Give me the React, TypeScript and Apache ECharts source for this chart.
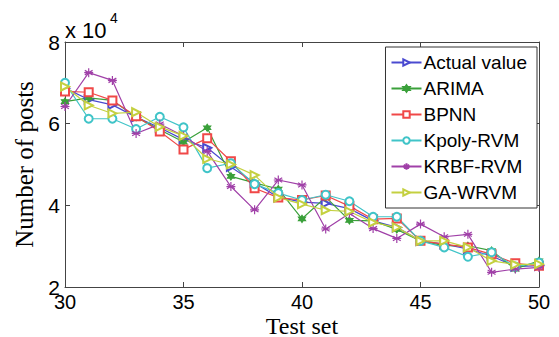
import React, { useEffect, useRef } from "react";
import * as echarts from "echarts";

// Test set index (x axis)
const testSet = [30, 31, 32, 33, 34, 35, 36, 37, 38, 39, 40, 41, 42, 43, 44, 45, 46, 47, 48, 49, 50];
// Values in units of 10^4 posts
const actualValue = [6.87, 6.59, 6.46, 6.16, 5.9, 5.61, 5.41, 4.94, 4.55, 4.2, 4.08, 4.05, 3.92, 3.62, 3.46, 3.13, 3.05, 2.93, 2.76, 2.5, 2.52];
const arima = [6.54, 6.63, 6.57, 6.16, 5.85, 5.55, 5.9, 4.71, 4.55, 4.4, 3.67, 4.2, 3.63, 3.62, 3.41, 3.13, 3.01, 3.01, 2.89, 2.44, 2.64];
const bpnn = [6.79, 6.77, 6.57, 6.18, 5.81, 5.37, 5.64, 5.08, 4.42, 4.19, 4.13, 4.24, 3.98, 3.66, 3.68, 3.13, 3.05, 2.97, 2.8, 2.58, 2.52];
const kpolyRvm = [7.0, 6.12, 6.12, 5.87, 6.17, 5.91, 4.91, 5.03, 4.52, 4.3, 4.13, 4.26, 4.1, 3.72, 3.72, 3.13, 2.97, 2.74, 2.85, 2.5, 2.6];
const krbfRvm = [6.42, 7.25, 7.06, 5.76, 5.99, 5.7, 5.32, 4.46, 3.89, 4.62, 4.5, 3.42, 3.8, 3.43, 3.19, 3.54, 3.23, 3.29, 2.36, 2.44, 2.48];
const gaWrvm = [6.91, 6.45, 6.25, 6.28, 5.92, 5.7, 5.14, 5.0, 4.74, 4.19, 4.03, 3.88, 3.85, 3.58, 3.46, 3.13, 3.13, 2.97, 2.64, 2.55, 2.56];

const seriesNames = ["Actual value", "ARIMA", "BPNN", "Kpoly-RVM", "KRBF-RVM", "GA-WRVM"];
const seriesData = [actualValue, arima, bpnn, kpolyRvm, krbfRvm, gaWrvm];
const seriesColors = ["#4a4ad0", "#3aa03a", "#f04848", "#40c4c8", "#a040a8", "#c4d040"];

const yTicks = [2, 4, 6, 8];

const ASTERISK = "path://M0,-10L0,10M-8.7,-5L8.7,5M-8.7,5L8.7,-5M-10,0L10,0";
const HEXAGRAM = "path://M0,-10L2.9,-5L8.7,-5L5.8,0L8.7,5L2.9,5L0,10L-2.9,5L-8.7,5L-5.8,0L-8.7,-5L-2.9,-5Z";

const symbols = ["emptyTriangle", HEXAGRAM, "emptyRect", "emptyCircle", ASTERISK, "emptyTriangle"];
const symbolSizes = [8, 7, 8, 8, 9, 8];
const symbolRotates = [-90, 0, 0, 0, 0, -90];

export default function App() {
  const ref = useRef<HTMLDivElement>(null);
  useEffect(() => {
    if (!ref.current) return;
    document.body.style.margin = "0";
    const chart = echarts.init(ref.current, null, { renderer: "svg" });
    const axisFont = "Liberation Sans, Arial, sans-serif";
    const serif = "Liberation Serif, Times New Roman, serif";
    const frame = { show: true, lineStyle: { color: "#444", width: 1 } };
    const ticks = { show: true, inside: true, length: 5, lineStyle: { color: "#444" } };
    chart.setOption({
      animation: false,
      backgroundColor: "#fff",
      grid: { left: 65, right: 20, top: 42, bottom: 50, containLabel: false, outerBoundsMode: "none" },
      xAxis: [
        {
          type: "value",
          min: 30,
          max: 50,
          interval: 5,
          position: "bottom",
          axisLine: frame,
          axisTick: ticks,
          axisLabel: { color: "#000", fontSize: 20, lineHeight: 16, fontFamily: axisFont, margin: 7 },
          splitLine: { show: false },
          name: "Test set",
          nameLocation: "middle",
          nameGap: 28,
          nameMoveOverlap: false,
          nameTextStyle: { color: "#000", fontSize: 24, lineHeight: 21, fontFamily: serif },
        },
        {
          type: "value",
          min: 30,
          max: 50,
          interval: 5,
          position: "top",
          axisLine: frame,
          axisTick: ticks,
          axisLabel: { show: false },
          splitLine: { show: false },
        },
      ],
      yAxis: [
        {
          type: "value",
          min: 2,
          max: 8,
          interval: 2,
          position: "left",
          axisLine: frame,
          axisTick: ticks,
          axisLabel: {
            color: "#000",
            fontSize: 21,
            lineHeight: 16,
            fontFamily: axisFont,
            margin: 5,
            formatter: (v: number) => (yTicks.includes(v) ? String(v) : ""),
          },
          splitLine: { show: false },
          name: "Number of posts",
          nameLocation: "middle",
          nameGap: 28,
          nameRotate: 90,
          nameMoveOverlap: false,
          nameTextStyle: { color: "#000", fontSize: 25, fontFamily: serif },
        },
        {
          type: "value",
          min: 2,
          max: 8,
          interval: 2,
          position: "right",
          axisLine: frame,
          axisTick: ticks,
          axisLabel: { show: false },
          splitLine: { show: false },
        },
      ],
      legend: {
        orient: "vertical",
        right: 22,
        top: 47,
        data: seriesNames,
        backgroundColor: "#fff",
        borderColor: "#333",
        borderWidth: 1,
        padding: [6, 10, 6, 5],
        itemWidth: 30,
        itemHeight: 8,
        itemGap: 7,
        textStyle: { color: "#000", fontSize: 19, fontFamily: axisFont, padding: [0, 0, 0, -3] },
      },
      graphic: [
        {
          type: "text",
          left: 65,
          top: 19,
          style: { text: "x 10", fontSize: 22, fontFamily: axisFont, fill: "#000" },
        },
        {
          type: "text",
          left: 110,
          top: 11,
          style: { text: "4", fontSize: 14, fontFamily: axisFont, fill: "#000" },
        },
      ],
      series: seriesNames.map((name, i) => ({
        name,
        type: "line",
        xAxisIndex: 0,
        yAxisIndex: 0,
        data: testSet.map((x, j) => [x, seriesData[i][j]]),
        symbol: symbols[i],
        symbolSize: symbolSizes[i],
        symbolRotate: symbolRotates[i],
        showAllSymbol: true,
        lineStyle: { color: seriesColors[i], width: 1.2 },
        itemStyle: { color: seriesColors[i], borderColor: seriesColors[i], borderWidth: 1.2 },
        emphasis: { disabled: true },
      })),
    });
    return () => chart.dispose();
  }, []);
  return <div ref={ref} style={{ width: 559, height: 337 }} />;
}
